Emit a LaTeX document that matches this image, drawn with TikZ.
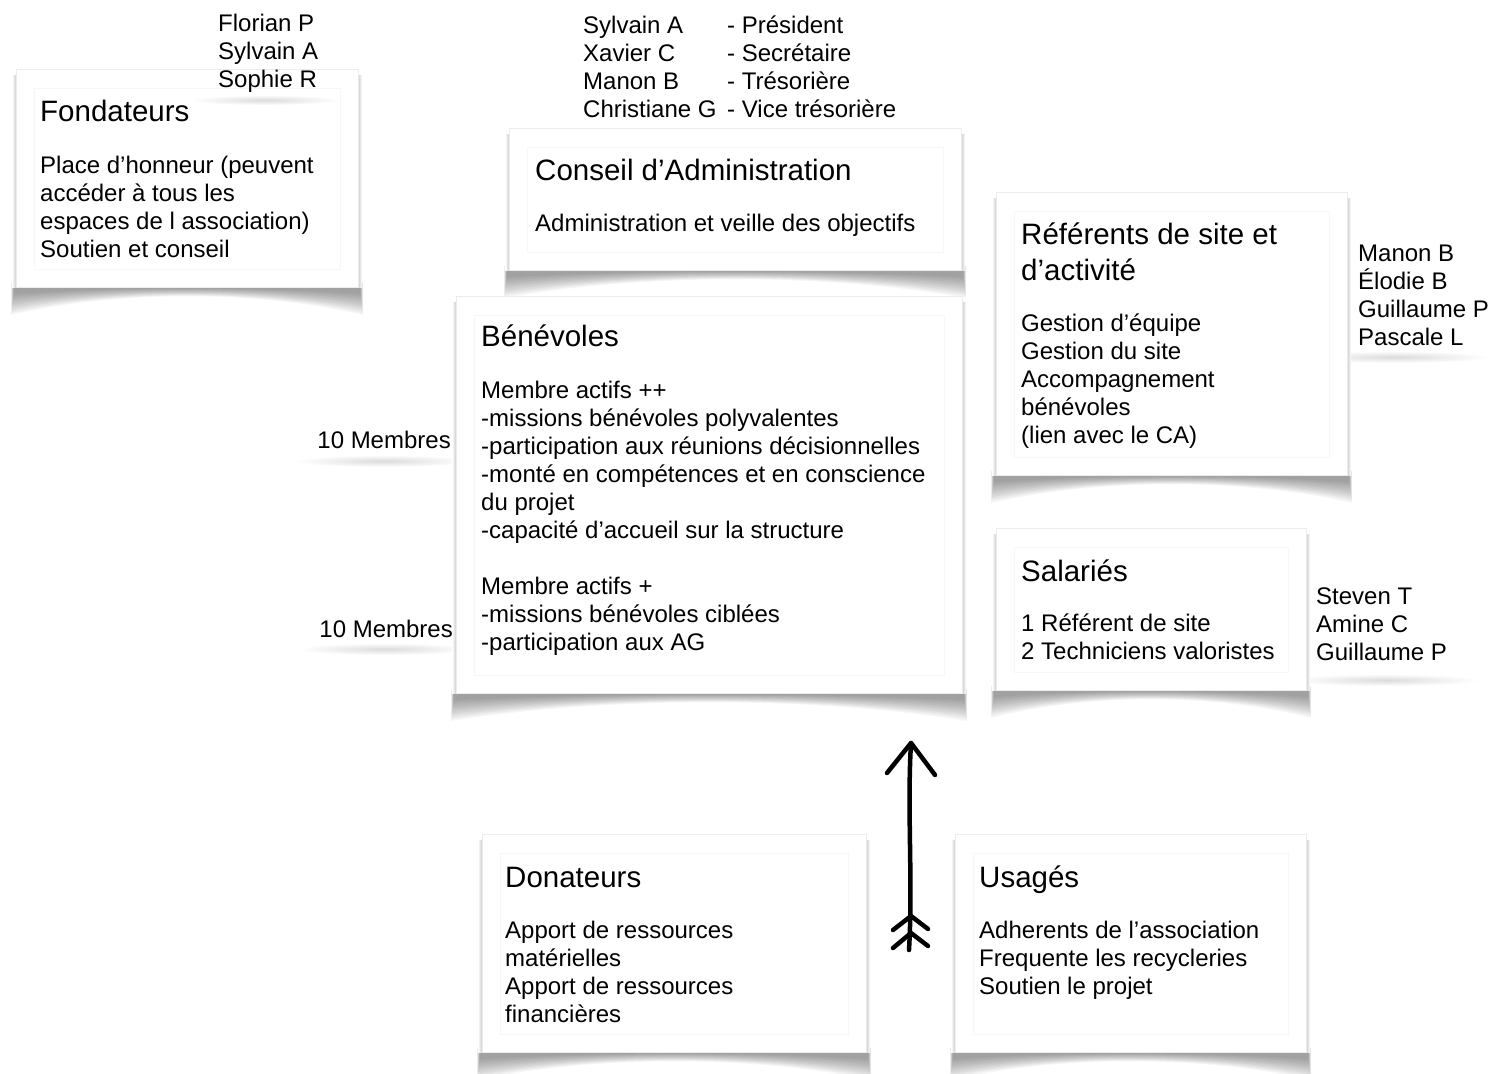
\documentclass[tikz,border=0pt]{standalone}
\usepackage{fontspec}
\setmainfont{Liberation Sans}
\newcommand\stacktext[1]{\parbox[t]{700pt}{\raggedright #1}}
\newcommand\paperbox[5]{%
  \foreach \k in {0,...,11}{%
    \fill[black, opacity=0.036] ({#2-5+0.25*\k},{#5-4}) -- ({#2-5+0.25*\k},{#5+28-1.9*\k})
      .. controls ({#2+0.3*(#4-#2)},{#5+3-0.3*\k}) and ({#4-0.3*(#4-#2)},{#5+3-0.3*\k}) ..
      ({#4+5-0.25*\k},{#5+28-1.9*\k}) -- ({#4+5-0.25*\k},{#5-4}) -- cycle;}%
  \shade[left color=white, right color=gray!40] ({#2-4},{#3+6}) rectangle (#2,#5);
  \shade[left color=gray!40, right color=white] (#4,{#3+6}) rectangle ({#4+4},#5);
  \node[paper, anchor=north west, minimum width={(#4-#2)*1pt}, minimum height={(#5-#3)*1pt}] (#1) at (#2,#3) {};
  \draw[innerframe] ({#2+18},{#3+19}) rectangle ({#4-18},{#5-18});
}
\begin{document}
\begin{tikzpicture}[x=1pt,y=-1pt,
  paper/.style={draw=gray!15, line width=0.6pt, fill=white, inner sep=0pt},
  innerframe/.style={draw=gray!6, line width=0.5pt},
  titletext/.style={font=\fontsize{29.5}{36}\selectfont, anchor=base west, inner sep=0pt},
  bodytext/.style={font=\fontsize{24}{28}\selectfont, anchor=base west, inner sep=0pt},
  rightlabel/.style={font=\fontsize{24}{28}\selectfont, anchor=base east, inner sep=0pt},
  handline/.style={line width=4.5pt, line cap=round, line join=round, black},
  softshadow/.style={inner color=gray!28, outer color=white}]
\useasboundingbox (0,0) rectangle (1490,1073);
\fill[white] (0,0) rectangle (1490,1073);

% soft shadows under free text lists
\shade[softshadow] (383,461) ellipse [x radius=88pt, y radius=6pt];
\shade[softshadow] (385,649) ellipse [x radius=88pt, y radius=6pt];
\shade[softshadow] (1395,357) ellipse [x radius=95pt, y radius=6pt];
\shade[softshadow] (1385,680) ellipse [x radius=95pt, y radius=6pt];

% boxes
\paperbox{fond}{16}{69}{358}{287}
\paperbox{ca}{509}{128}{961}{270}
\paperbox{ref}{996}{192}{1347}{475}
\paperbox{ben}{456}{296}{962}{693}
\paperbox{sal}{996}{528}{1306}{690}
\paperbox{don}{482}{834}{866}{1052}
\paperbox{usa}{955}{834}{1306}{1052}

\shade[softshadow] (265,100) ellipse [x radius=75pt, y radius=5pt];

% founders names
\node[bodytext] (fondNames) at (218,32) {\stacktext{Florian P\\Sylvain A\\Sophie R}};
% CA members
\node[bodytext] (caNames) at (583,34) {\stacktext{Sylvain A\\Xavier C\\Manon B\\Christiane G}};
\node[bodytext] (caRoles) at (727,34) {\stacktext{- Président\\- Secrétaire\\- Trésorière\\- Vice trésorière}};

% Fondateurs
\node[titletext] (fondTitle) at (40,121.5) {Fondateurs};
\node[bodytext] (fondBody) at (40,173) {\stacktext{Place d’honneur (peuvent\\accéder à tous les\\espaces de l association)\\Soutien et conseil}};

% Conseil
\node[titletext] (caTitle) at (535,180.5) {Conseil d’Administration};
\node[bodytext] (caBody) at (535,231) {Administration et veille des objectifs};

% Referents
\node[titletext] (refTitle) at (1021,244.5) {\parbox[t]{600pt}{\raggedright Référents de site et\\d’activité}};
\node[bodytext] (refBody) at (1021,331) {\stacktext{Gestion d’équipe\\Gestion du site\\Accompagnement\\bénévoles\\(lien avec le CA)}};
\node[bodytext] (refNames) at (1358,261) {\stacktext{Manon B\\Élodie B\\Guillaume P\\Pascale L}};

% Benevoles
\node[titletext] (benTitle) at (481,346.5) {Bénévoles};
\node[bodytext] (benBody) at (481,398) {\stacktext{Membre actifs ++\\-missions bénévoles polyvalentes\\-participation aux réunions décisionnelles\\-monté en compétences et en conscience\\du projet\\-capacité d’accueil sur la structure\\[28pt]Membre actifs +\\-missions bénévoles ciblées\\-participation aux AG}};
\node[rightlabel] (memA) at (451,448) {10 Membres};
\node[rightlabel] (memB) at (453,637) {10 Membres};

% Salaries
\node[titletext] (salTitle) at (1021,581.5) {Salariés};
\node[bodytext] (salBody) at (1021,631) {\stacktext{1 Référent de site\\2 Techniciens valoristes}};
\node[bodytext] (salNames) at (1316,604) {\stacktext{Steven T\\Amine C\\Guillaume P}};

% Donateurs
\node[titletext] (donTitle) at (505,887.5) {Donateurs};
\node[bodytext] (donBody) at (505,938) {\stacktext{Apport de ressources\\matérielles\\Apport de ressources\\financières}};

% Usages
\node[titletext] (usaTitle) at (979,887.5) {Usagés};
\node[bodytext] (usaBody) at (979,938) {\stacktext{Adherents de l’association\\Frequente les recycleries\\Soutien le projet}};

% hand drawn arrow
\coordinate (arrTail) at (909,950);
\coordinate (arrTip) at (911,743);
\coordinate (featherA) at (911,916);
\coordinate (featherB) at (911,933);
\draw[handline] (arrTail) .. controls (913,880) and (907,810) .. (arrTip);
\draw[handline] ([shift={(-24,30)}]arrTip) -- (arrTip) -- ([shift={(24,32)}]arrTip);
\draw[handline] ([shift={(-18,14)}]featherA) -- (featherA) -- ([shift={(17,13)}]featherA);
\draw[handline] ([shift={(-18,15)}]featherB) -- (featherB) -- ([shift={(17,13)}]featherB);
\end{tikzpicture}
\end{document}
